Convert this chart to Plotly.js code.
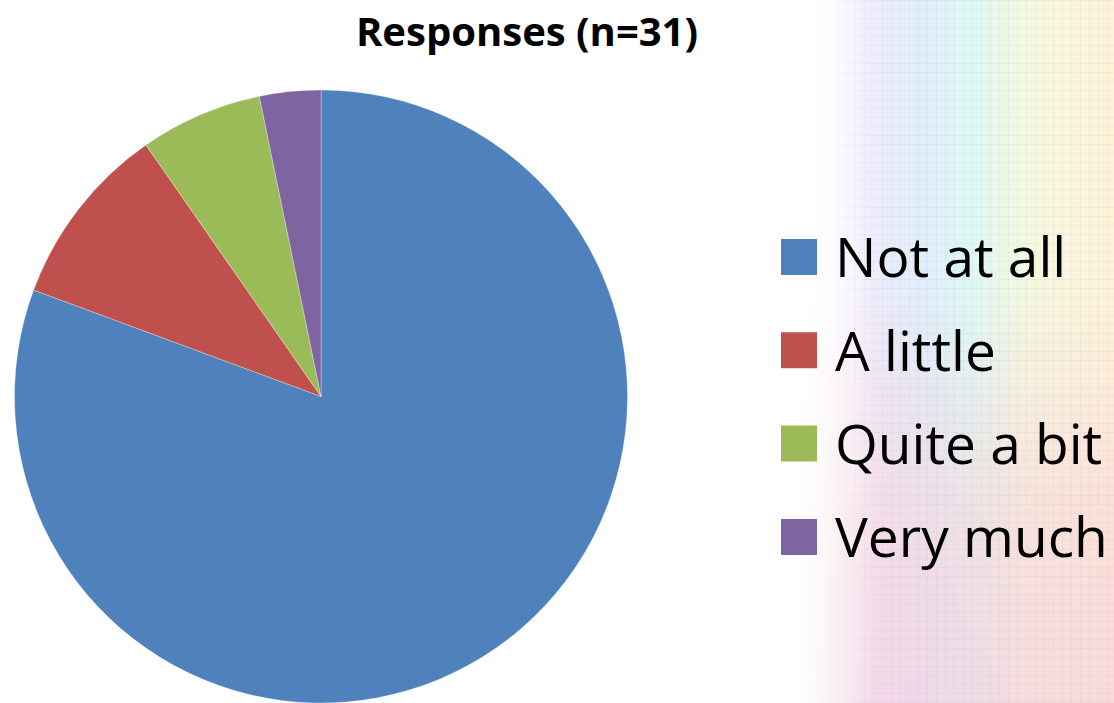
<!DOCTYPE html>
<html>
<head>
<meta charset="utf-8">
<script src="https://cdn.plot.ly/plotly-3.0.1.min.js"></script>
<style>
  html, body { margin: 0; padding: 0; background: #ffffff; }
  #wrap { position: relative; width: 1114px; height: 703px; overflow: hidden; background: #ffffff; }
  #bg {
    position: absolute; left: 0; top: 0; width: 1114px; height: 703px;
    background:
      repeating-linear-gradient(90deg, rgba(180,180,180,0.12) 0px, rgba(180,180,180,0.12) 1px, transparent 1px, transparent 9px),
      repeating-linear-gradient(0deg, rgba(180,180,180,0.12) 0px, rgba(180,180,180,0.12) 1px, transparent 1px, transparent 9px),
      linear-gradient(180deg, rgba(255,255,255,0) 0%, rgba(255,255,255,0) 40%, rgba(250,210,218,0.6) 75%, rgba(248,205,222,0.65) 100%),
      linear-gradient(90deg, #ffffff 0%, #ffffff 73%, #eeebfc 78%, #e0eefb 83%, #dcf8f6 87%, #f4f8e0 92%, #fdf3d9 100%);
    -webkit-mask-image: linear-gradient(90deg, transparent 0px, transparent 800px, #000 880px);
    mask-image: linear-gradient(90deg, transparent 0px, transparent 800px, #000 880px);
  }
  #chart { position: absolute; left: 0; top: 0; width: 1114px; height: 703px; }
</style>
</head>
<body>
<div id="wrap">
  <div id="bg"></div>
  <div id="chart"></div>
</div>
<script>
const labels = ["Not at all", "A little", "Quite a bit", "Very much"];
const values = [25, 3, 2, 1];
const colors = ["#4F81BD", "#C0504D", "#9BBB59", "#8064A2"];
const titleText = "Responses (n=31)";

const W = 1114, H = 703;
const fontFam = "'Open Sans', 'DejaVu Sans', sans-serif";

const trace = {
  type: "pie",
  labels: labels,
  values: values,
  sort: false,
  direction: "clockwise",
  rotation: 0,
  marker: { colors: colors, line: { color: "rgba(255,255,255,0.6)", width: 0.5 } },
  textinfo: "none",
  hoverinfo: "label+value+percent",
  showlegend: false,
  domain: { x: [14 / W, 628 / W], y: [0, 613 / H] }
};

// custom legend (large square markers) built from labels/colors
const shapes = [];
const annotations = [];
const legendTop = 257, legendStep = 93.3, sq = 36;
const sqLeft = 781, textLeft = 833;
labels.forEach((lab, i) => {
  const yc = legendTop + i * legendStep;
  shapes.push({
    type: "rect", xref: "paper", yref: "paper",
    x0: sqLeft / W, x1: (sqLeft + sq) / W,
    y0: 1 - (yc + sq / 2) / H, y1: 1 - (yc - sq / 2) / H,
    fillcolor: colors[i], line: { width: 0 }
  });
  annotations.push({
    xref: "paper", yref: "paper",
    x: textLeft / W, y: 1 - (yc - 1) / H,
    xanchor: "left", yanchor: "middle",
    text: lab, showarrow: false,
    font: { family: fontFam, size: 55, color: "#000000" }
  });
});

const layout = {
  width: W, height: H,
  margin: { l: 0, r: 0, t: 0, b: 0 },
  paper_bgcolor: "rgba(0,0,0,0)",
  plot_bgcolor: "rgba(0,0,0,0)",
  title: {
    text: "<b>" + titleText + "</b>",
    x: 527 / W, xanchor: "center",
    y: 1 - 32 / H, yanchor: "middle",
    font: { family: fontFam, size: 40, color: "#000000" }
  },
  shapes: shapes,
  annotations: annotations,
  showlegend: false
};

Plotly.newPlot("chart", [trace], layout, { displayModeBar: false, staticPlot: false });
</script>
</body>
</html>
